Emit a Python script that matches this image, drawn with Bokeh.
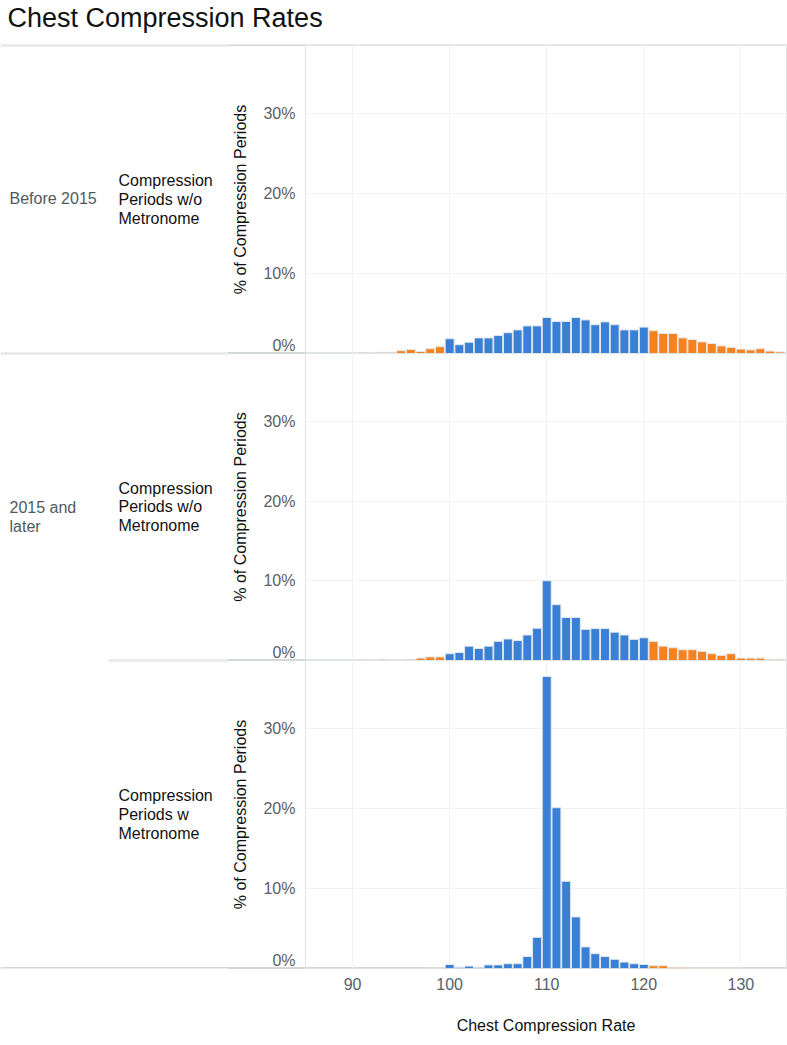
from bokeh.plotting import figure
from bokeh.layouts import column, row
from bokeh.models import (ColumnDataSource, Range1d, FixedTicker, PrintfTickFormatter,
                          Grid, Span)
from bokeh.core.properties import value
from bokeh.embed import file_html
from bokeh.resources import INLINE

# ---------------- data ----------------
rates = list(range(86, 135))  # chest compression rate bins (86..134)

before_2015_wo_metronome = [
    0.03, 0.03, 0.05, 0.05, 0.05, 0.08, 0.12, 0.15, 0.15, 0.35,   # 86-95
    0.5, 0.25, 0.6, 0.85, 1.85, 1.1, 1.4, 1.95, 1.95, 2.25,       # 96-105
    2.6, 2.95, 3.45, 3.45, 4.5, 4.0, 4.0, 4.5, 4.2, 3.6,          # 106-115
    3.95, 3.6, 2.95, 2.95, 3.3, 2.85, 2.5, 2.5, 1.95, 1.75,       # 116-125
    1.45, 1.25, 0.95, 0.75, 0.55, 0.45, 0.6, 0.3, 0.2,            # 126-134
]
since_2015_wo_metronome = [
    0.03, 0.05, 0.05, 0.03, 0.05, 0.08, 0.1, 0.15, 0.1, 0.12,     # 86-95
    0.15, 0.3, 0.45, 0.45, 0.85, 1.0, 1.8, 1.5, 1.8, 2.4,         # 96-105
    2.7, 2.5, 3.2, 4.05, 10.0, 7.0, 5.4, 5.4, 3.9, 4.0,           # 106-115
    4.0, 3.55, 3.2, 2.65, 2.85, 2.4, 1.8, 1.6, 1.35, 1.35,        # 116-125
    1.15, 0.85, 0.65, 0.85, 0.3, 0.3, 0.3, 0.15, 0.15,            # 126-134
]
since_2015_w_metronome = [
    0, 0, 0, 0, 0, 0, 0, 0, 0, 0,                                 # 86-95
    0, 0, 0.03, 0.05, 0.5, 0.15, 0.3, 0.15, 0.45, 0.45,           # 96-105
    0.6, 0.6, 1.5, 3.9, 36.5, 20.1, 10.9, 6.45, 2.7, 1.85,        # 106-115
    1.5, 1.15, 0.8, 0.6, 0.5, 0.35, 0.35, 0.15, 0.15, 0.05,       # 116-125
    0.05, 0.05, 0.05, 0.05, 0, 0, 0, 0, 0,                        # 126-134
]

title_text = "Chest Compression Rates"
era_labels = ["Before 2015", "2015 and\nlater"]
group_labels = ["Compression\nPeriods w/o\nMetronome",
                "Compression\nPeriods w/o\nMetronome",
                "Compression\nPeriods w\nMetronome"]
y_label = "% of Compression Periods"
x_label = "Chest Compression Rate"
target_low, target_high = 100, 120
x_ticks = [90, 100, 110, 120, 130]
y_ticks = [0, 10, 20, 30]

# ---------------- style / layout ----------------
FONT = "Liberation Sans"
BLUE = "#3a7fd6"
ORANGE = "#f5821f"
BAR_LINE = "#e2e7eb"
GRID = "#f1f2f3"
RULE = "#d3d7da"
FRAME_EDGE = "#e1e4e6"
TICK_COLOR = "#5a6065"
ERA_COLOR = "#4f5a60"
TEXT = "#111111"

TOTAL_W = 787
HEAD_W = 228          # header column (row labels)
AXIS_W = 77           # space for y tick labels and y axis title
PANEL_W = TOTAL_W - HEAD_W
TITLE_H = 45
FRAME_H = [308, 307, 308]
BOTTOM_H = 72
Y_MAX = 38.5
ERA_X, GROUP_X, SUB_RULE_X = 9, 118, 108

x_range = Range1d(85.15, 134.7)
y_ranges = [Range1d(0, Y_MAX) for _ in range(3)]


def base_fig(width, height, xr, yr, **kw):
    p = figure(width=width, height=height, x_range=xr, y_range=yr,
               output_backend="svg", toolbar_location=None, **kw)
    return p


def make_panel(i, vals, bottom, show_x, styles):
    keep = [(r, v) for r, v in zip(rates, vals) if v > 0]
    src = ColumnDataSource(dict(
        rate=[r for r, _ in keep],
        pct=[v for _, v in keep],
        color=[BLUE if target_low <= r <= target_high else ORANGE for r, _ in keep],
    ))
    p = base_fig(PANEL_W, FRAME_H[i] + bottom, x_range, y_ranges[i],
                 x_axis_location="below" if show_x else None,
                 min_border_left=AXIS_W, min_border_right=1,
                 min_border_top=0, min_border_bottom=bottom, styles=styles)
    p.border_fill_color = None
    p.background_fill_color = None
    p.outline_line_color = FRAME_EDGE
    p.outline_line_width = 1

    if len(p.xgrid) == 0:
        p.add_layout(Grid(dimension=0, ticker=FixedTicker(ticks=x_ticks)))
    for g in p.xgrid:
        g.ticker = FixedTicker(ticks=x_ticks)
    for g in p.ygrid:
        g.ticker = FixedTicker(ticks=y_ticks[1:])
    for g in p.grid:
        g.grid_line_color = GRID
        g.grid_line_width = 1

    p.vbar(x="rate", top="pct", width=0.92, source=src,
           fill_color="color", line_color=BAR_LINE, line_width=1)

    ya = p.yaxis[0]
    # the bottom label is nudged just above the baseline, as in the original
    nudged = [y_ticks[0] + 1] + y_ticks[1:]
    ya.ticker = FixedTicker(ticks=nudged)
    ya.formatter = PrintfTickFormatter(format="%d%%")
    ya.major_label_overrides = {nudged[0]: f"{y_ticks[0]}%"}
    ya.axis_line_color = None
    ya.major_tick_line_color = None
    ya.minor_tick_line_color = None
    ya.major_tick_out = 0
    ya.major_tick_in = 0
    ya.minor_tick_out = 0
    ya.major_label_text_font = FONT
    ya.major_label_text_font_size = "16px"
    ya.major_label_text_color = TICK_COLOR
    ya.major_label_standoff = 10
    ya.axis_label = y_label
    ya.axis_label_text_font = FONT
    ya.axis_label_text_font_size = "16px"
    ya.axis_label_text_font_style = "normal"
    ya.axis_label_text_color = TEXT
    ya.axis_label_standoff = 11

    if show_x:
        xa = p.xaxis[0]
        xa.ticker = FixedTicker(ticks=x_ticks)
        xa.axis_line_color = None
        xa.major_tick_line_color = None
        xa.minor_tick_line_color = None
        xa.major_tick_out = 0
        xa.major_tick_in = 0
        xa.minor_tick_out = 0
        xa.major_label_text_font = FONT
        xa.major_label_text_font_size = "16px"
        xa.major_label_text_color = TICK_COLOR
        xa.major_label_standoff = 9
        xa.axis_label = x_label
        xa.axis_label_text_font = FONT
        xa.axis_label_text_font_size = "16px"
        xa.axis_label_text_font_style = "normal"
        xa.axis_label_text_color = TEXT
        xa.axis_label_standoff = 24
    return p


def make_header(i, bottom):
    h = base_fig(HEAD_W, FRAME_H[i] + bottom, Range1d(0, HEAD_W), y_ranges[i],
                 x_axis_location=None, y_axis_location=None,
                 min_border_left=0, min_border_right=0, min_border_top=0,
                 min_border_bottom=bottom)
    h.outline_line_color = None
    h.border_fill_color = "white"
    h.background_fill_color = "white"
    h.grid.visible = False
    return h


def add_text(p, x, y, txt, color, size="16px"):
    p.text(x=[x], y=[y], text=[txt], text_font=value(FONT), text_font_size=value(size),
           text_color=color, text_align="left", text_baseline="middle",
           text_line_height=1.1)


# ----- title -----
t = base_fig(TOTAL_W, TITLE_H, Range1d(0, TOTAL_W), Range1d(0, TITLE_H),
             x_axis_location=None, y_axis_location=None, min_border=0)
t.outline_line_color = None
t.border_fill_color = "white"
t.background_fill_color = "white"
t.grid.visible = False
t.text(x=[7], y=[28], text=[title_text], text_font=value(FONT),
       text_font_size=value("27px"), text_color=TEXT, text_align="left",
       text_baseline="alphabetic")
t.add_layout(Span(location=0, dimension="width", line_color=RULE, line_width=2))

edge = f"inset 0 1px 0 {RULE}, inset 0 -1px 0 {RULE}"
bottom_band = (f"linear-gradient(to top, transparent {BOTTOM_H - 1}px, {RULE} {BOTTOM_H - 1}px, "
               f"{RULE} {BOTTOM_H + 1}px, transparent {BOTTOM_H + 1}px)")

p1 = make_panel(0, before_2015_wo_metronome, 0, False,
                {"box-shadow": edge, "background-color": "white"})
p2 = make_panel(1, since_2015_wo_metronome, 0, False,
                {"box-shadow": edge, "background-color": "white"})
p3 = make_panel(2, since_2015_w_metronome, BOTTOM_H, True,
                {"box-shadow": f"inset 0 1px 0 {RULE}", "background-image": bottom_band,
                 "background-color": "white"})

h1 = make_header(0, 0)
h2 = make_header(1, 0)
h3 = make_header(2, BOTTOM_H)

add_text(h1, ERA_X, 19.4, era_labels[0], ERA_COLOR)
add_text(h2, ERA_X, 18.0, era_labels[1], ERA_COLOR)
for h, g in zip([h1, h2, h3], group_labels):
    add_text(h, GROUP_X, 19.25, g, TEXT)

# separator rules across the header column
h1.add_layout(Span(location=Y_MAX, dimension="width", line_color=RULE, line_width=2))
h1.add_layout(Span(location=0, dimension="width", line_color=RULE, line_width=2))
h2.add_layout(Span(location=Y_MAX, dimension="width", line_color=RULE, line_width=2))
h2.segment(x0=[SUB_RULE_X], y0=[0], x1=[HEAD_W], y1=[0], line_color=RULE, line_width=2)
h3.segment(x0=[SUB_RULE_X], y0=[Y_MAX], x1=[HEAD_W], y1=[Y_MAX], line_color=RULE, line_width=2)
h3.add_layout(Span(location=0, dimension="width", line_color=RULE, line_width=3))

layout = column(t, row(h1, p1, spacing=0), row(h2, p2, spacing=0), row(h3, p3, spacing=0),
                spacing=0)

with open("out.html", "w") as f:
    f.write(file_html(layout, INLINE))
